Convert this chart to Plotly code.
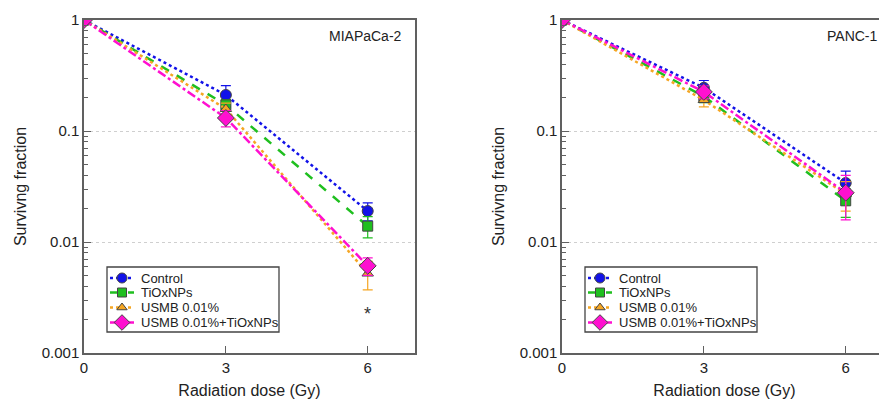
import plotly.graph_objects as go

doses = [0, 3, 6]
series_names = ["Control", "TiOxNPs", "USMB 0.01%", "USMB 0.01%+TiOxNPs"]

# MIAPaCa-2
mia_control = [1.0, 0.211, 0.019]
mia_tiox = [1.0, 0.172, 0.0139]
mia_usmb = [1.0, 0.158, 0.0052]
mia_combo = [1.0, 0.131, 0.0061]
mia_err_control = [0, 0.045, 0.0035]
mia_err_tiox = [0, 0.02, 0.003]
mia_err_usmb = [0, 0.02, 0.0015]
mia_err_combo = [0, 0.022, 0.0011]

# PANC-1
panc_control = [1.0, 0.245, 0.034]
panc_tiox = [1.0, 0.205, 0.0235]
panc_usmb = [1.0, 0.19, 0.027]
panc_combo = [1.0, 0.225, 0.0278]
panc_err_control = [0, 0.04, 0.0095]
panc_err_tiox = [0, 0.025, 0.0068]
panc_err_usmb = [0, 0.025, 0.008]
panc_err_combo = [0, 0.03, 0.012]

x_ticks = [0, 3, 6]
y_tickvals = [0.001, 0.01, 0.1, 1]
y_ticktext = ["0.001", "0.01", "0.1", "1"]
y_minor = [m * 10 ** e for e in (-3, -2, -1) for m in range(2, 10)]

# styles
colors = ["#1212e8", "#1fbf1f", "#f5a623", "#ff10d0"]
dashes = ["dot", "dash", "dot", "dashdot"]
symbols = ["circle", "square", "triangle-up", "diamond"]
msizes = [11, 10, 10, 13]
FONT = "Arial, Liberation Sans, sans-serif"
TXT = "#222222"
FRAME = "#606060"

# page geometry (the page body adds an 8 px offset)
OFF = 8
FIG_W, FIG_H = 887 - OFF, 403 - OFF
PL, PR, PT, PB = 84, 887, 20, 353          # screen pixels of full plot band
L_END, R_START = 415, 562                  # left panel right edge, right panel left edge
M_L, M_T = PL - OFF, PT - OFF
M_B = FIG_H - (PB - OFF)
W = FIG_W - M_L
left_end = (L_END - PL) / W
right_start = (R_START - PL) / W
px_per_unit = (L_END - PL) / 7.0

fig = go.Figure()

panels = [
    ("x", "y", [mia_control, mia_tiox, mia_usmb, mia_combo],
     [mia_err_control, mia_err_tiox, mia_err_usmb, mia_err_combo]),
    ("x2", "y2", [panc_control, panc_tiox, panc_usmb, panc_combo],
     [panc_err_control, panc_err_tiox, panc_err_usmb, panc_err_combo]),
]

for xa, ya, vals, errs in panels:
    for i, name in enumerate(series_names):
        fig.add_trace(go.Scatter(
            x=doses, y=vals[i], name=name, xaxis=xa, yaxis=ya, showlegend=False,
            mode="lines+markers",
            line=dict(color=colors[i], dash=dashes[i], width=2.5),
            marker=dict(symbol=symbols[i], size=msizes[i], color=colors[i],
                        line=dict(color="#444444", width=1)),
            error_y=dict(type="data", array=errs[i], color=colors[i],
                         thickness=1.2, width=5),
        ))

# custom compact legends on an overlay axis measured in screen pixels
leg_boxes = [(107, 267, 279, 332), (585, 267, 757, 332)]
row_dy = [11, 25.5, 40.5, 55.5]
shapes = []
annotations = []
for (bx0, by0, bx1, by1) in leg_boxes:
    shapes.append(dict(type="rect", xref="x3", yref="y3", x0=bx0, y0=by0, x1=bx1, y1=by1,
                       line=dict(color="#444444", width=1.3), fillcolor="rgba(0,0,0,0)",
                       layer="above"))
    for i, name in enumerate(series_names):
        yy = by0 + row_dy[i]
        fig.add_trace(go.Scatter(
            x=[bx0 + 3, bx0 + 27], y=[yy, yy], xaxis="x3", yaxis="y3",
            mode="lines", showlegend=False, hoverinfo="skip",
            line=dict(color=colors[i], dash=dashes[i], width=2.5)))
        fig.add_trace(go.Scatter(
            x=[bx0 + 15], y=[yy], xaxis="x3", yaxis="y3",
            mode="markers", showlegend=False, hoverinfo="skip",
            marker=dict(symbol=symbols[i], size=msizes[i] - 1, color=colors[i],
                        line=dict(color="#444444", width=1))))
        annotations.append(dict(text=name, xref="x3", yref="y3", x=bx0 + 32, y=yy,
                                xanchor="left", yanchor="middle", showarrow=False,
                                font=dict(family=FONT, size=13, color=TXT)))

annotations += [
    dict(text="MIAPaCa-2", xref="x3", yref="y3", x=404, y=36,
         xanchor="right", yanchor="middle", showarrow=False,
         font=dict(family=FONT, size=14, color=TXT)),
    dict(text="PANC-1", xref="x3", yref="y3", x=880, y=36,
         xanchor="right", yanchor="middle", showarrow=False,
         font=dict(family=FONT, size=14, color=TXT)),
    dict(text="*", xref="x", yref="y3", x=6, y=314,
         xanchor="center", yanchor="middle", showarrow=False,
         font=dict(family=FONT, size=18, color="#333333")),
]

tick_font = dict(family=FONT, size=15, color=TXT)
title_font = dict(family=FONT, size=16, color=TXT)

common_x = dict(tickvals=x_ticks, ticks="inside", ticklen=7, tickcolor=FRAME,
                showline=True, linecolor=FRAME, linewidth=1.5, mirror=True,
                showgrid=False, zeroline=False, tickfont=tick_font, automargin=False,
                title=dict(text="Radiation dose (Gy)", font=title_font, standoff=10))
common_y = dict(type="log", range=[-3, 0], tickvals=y_tickvals, ticktext=y_ticktext,
                ticks="inside", ticklen=7, tickcolor=FRAME, showline=True,
                linecolor=FRAME, linewidth=1.5, mirror=True, showgrid=True,
                gridcolor="#cfcfcf", griddash="dot", gridwidth=1, zeroline=False,
                tickfont=tick_font, automargin=False,
                minor=dict(tickmode="array", tickvals=y_minor, ticks="inside",
                           ticklen=4, showgrid=False, tickcolor=FRAME),
                title=dict(text="Survivng fraction", font=title_font, standoff=11))

fig.update_layout(
    width=FIG_W, height=FIG_H,
    margin=dict(l=M_L, r=0, t=M_T, b=M_B),
    paper_bgcolor="white", plot_bgcolor="rgba(0,0,0,0)",
    font=dict(family=FONT, color=TXT),
    showlegend=False,
    xaxis=dict(domain=[0, left_end], anchor="y", range=[0, 7], **common_x),
    yaxis=dict(domain=[0, 1], anchor="x", **common_y),
    xaxis2=dict(domain=[right_start, 1], anchor="y2",
                range=[0, (PR - R_START) / px_per_unit], **common_x),
    yaxis2=dict(domain=[0, 1], anchor="x2", **common_y),
    xaxis3=dict(domain=[0, 1], anchor="y3", range=[PL, PR], visible=False, fixedrange=True),
    yaxis3=dict(domain=[0, 1], anchor="x3", range=[PB, PT], visible=False, fixedrange=True),
    shapes=shapes,
    annotations=annotations,
)

fig.write_html("out.html")
